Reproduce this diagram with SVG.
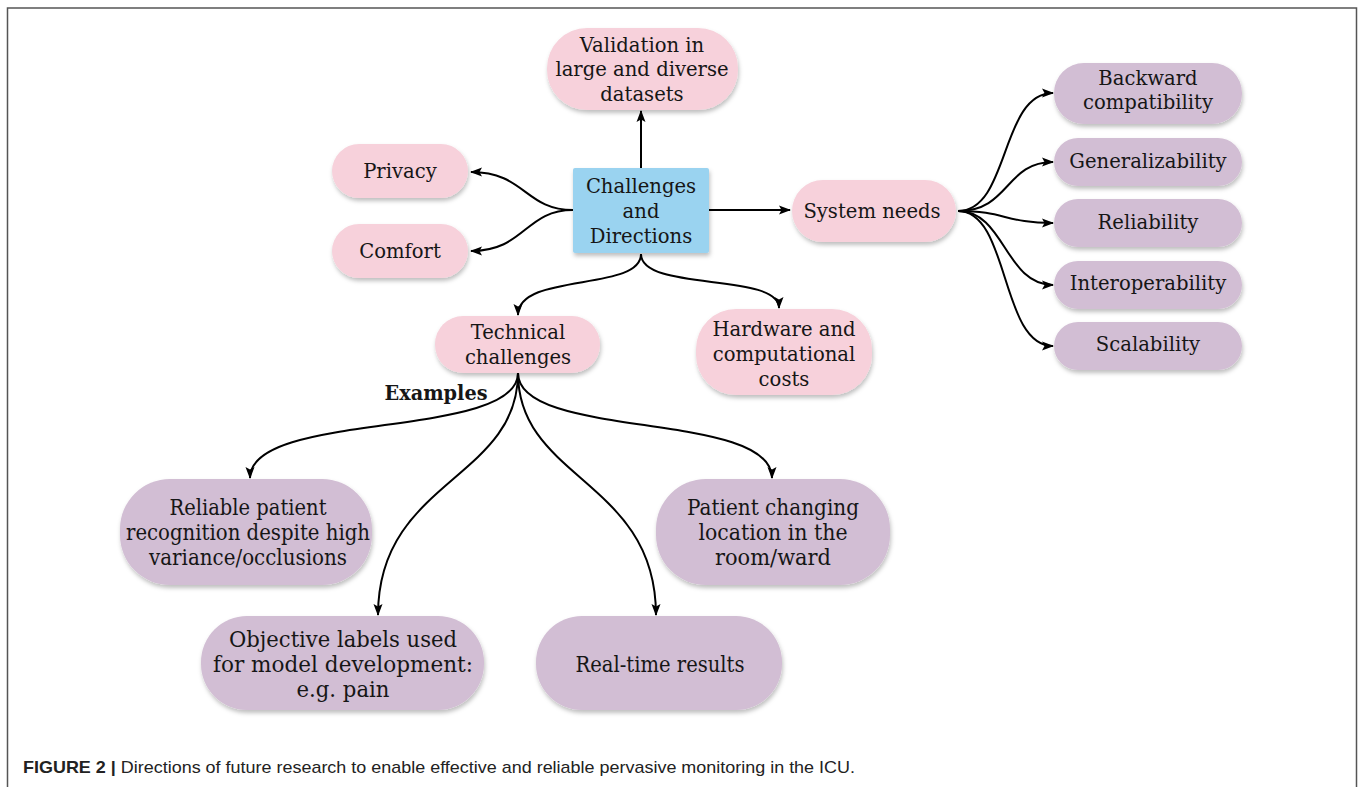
<svg xmlns="http://www.w3.org/2000/svg" width="1358" height="787" viewBox="0 0 1358 787">
<defs>
<filter id="sh" x="-10%" y="-10%" width="120%" height="130%">
<feDropShadow dx="1" dy="3" stdDeviation="2" flood-color="#000" flood-opacity="0.25"/>
</filter>
<marker id="ah" markerWidth="12" markerHeight="10" refX="11" refY="5" orient="auto" markerUnits="userSpaceOnUse">
<path d="M0,0.5 L12,5 L0,9.5 L2.5,5 Z" fill="#000"/>
</marker>
<style>
.pink{fill:#f7d1db;filter:url(#sh)}
.purple{fill:#d2bed4;filter:url(#sh)}
.blue{fill:#9ad3f0;filter:url(#sh)}
.t{font-family:"DejaVu Serif","Liberation Serif",serif;font-size:19.6px;fill:#161616;text-anchor:middle}
.tc{font-family:"DejaVu Serif","Liberation Serif",serif;font-size:22px;fill:#161616;text-anchor:middle}
.c{fill:none;stroke:#000;stroke-width:2;marker-end:url(#ah)}
</style>
</defs>
<rect width="1358" height="787" fill="#fff"/>
<path d="M7.5,787 V8 H1356.5 V787" fill="none" stroke="#555" stroke-width="1.5"/>

<g id="connectors">
<path class="c" d="M641,168 V111"/>
<path class="c" d="M573,210 C525,210 525,172 471,172"/>
<path class="c" d="M573,210 C525,210 525,251 471,251"/>
<path class="c" d="M709,210 H790"/>
<path class="c" d="M641,254 C641,292 518,272 518,315"/>
<path class="c" d="M641,254 C641,292 779,272 779,308"/>
<path class="c" d="M958,211 C1010,211 1000,93 1053,93"/>
<path class="c" d="M958,211 C1010,211 1005,162 1053,162"/>
<path class="c" d="M958,211 C1005,211 1005,223 1053,223"/>
<path class="c" d="M958,211 C1005,211 1005,285 1053,285"/>
<path class="c" d="M958,211 C1010,211 1000,346 1053,346"/>
<path class="c" d="M518,373 C518,440 250,410 250,478"/>
<path class="c" d="M518,373 C518,480 378,480 378,615"/>
<path class="c" d="M518,373 C518,480 656,480 656,615"/>
<path class="c" d="M518,373 C518,440 772,410 772,478"/>
</g>

<g id="validation">
<rect class="pink" x="547" y="28" width="191" height="82" rx="40"/>
<text class="t" x="642" y="52">Validation in</text>
<text class="t" x="642" y="76">large and diverse</text>
<text class="t" x="642" y="101">datasets</text>
</g>
<g id="center">
<rect class="blue" x="573" y="168" width="136" height="85" rx="2"/>
<text class="t" x="641" y="193">Challenges</text>
<text class="t" x="641" y="218">and</text>
<text class="t" x="641" y="243">Directions</text>
</g>
<g id="privacy">
<rect class="pink" x="332" y="144" width="136" height="54" rx="27"/>
<text class="t" x="400" y="178">Privacy</text>
</g>
<g id="comfort">
<rect class="pink" x="332" y="224" width="136" height="54" rx="27"/>
<text class="t" x="400" y="258">Comfort</text>
</g>
<g id="system-needs">
<rect class="pink" x="792" y="180" width="164" height="62" rx="31"/>
<text class="t" x="872" y="218">System needs</text>
</g>
<g id="backward">
<rect class="purple" x="1054" y="63" width="188" height="61" rx="30"/>
<text class="t" x="1148" y="85">Backward</text>
<text class="t" x="1148" y="109">compatibility</text>
</g>
<g id="generalizability">
<rect class="purple" x="1054" y="138" width="188" height="48" rx="24"/>
<text class="t" x="1148" y="168">Generalizability</text>
</g>
<g id="reliability">
<rect class="purple" x="1054" y="199" width="188" height="48" rx="24"/>
<text class="t" x="1148" y="229">Reliability</text>
</g>
<g id="interoperability">
<rect class="purple" x="1054" y="261" width="188" height="48" rx="24"/>
<text class="t" x="1148" y="290">Interoperability</text>
</g>
<g id="scalability">
<rect class="purple" x="1054" y="322" width="188" height="48" rx="24"/>
<text class="t" x="1148" y="351">Scalability</text>
</g>
<g id="technical">
<rect class="pink" x="435" y="316" width="165" height="57" rx="28"/>
<text class="t" x="518" y="339">Technical</text>
<text class="t" x="518" y="364">challenges</text>
</g>
<g id="hardware">
<rect class="pink" x="696" y="309" width="176" height="86" rx="40"/>
<text class="t" x="784" y="336">Hardware and</text>
<text class="t" x="784" y="361">computational</text>
<text class="t" x="784" y="386">costs</text>
</g>
<text id="examples" x="436" y="400" textLength="103" lengthAdjust="spacingAndGlyphs" style="font-family:'DejaVu Serif','Liberation Serif',serif;font-size:21px;font-weight:bold;text-anchor:middle;fill:#161616">Examples</text>
<g id="reliable-patient">
<rect class="purple" x="120" y="479" width="252" height="106" rx="50"/>
<text class="tc" x="248" y="515" textLength="157" lengthAdjust="spacingAndGlyphs">Reliable patient</text>
<text class="tc" x="248" y="540" textLength="244" lengthAdjust="spacingAndGlyphs">recognition despite high</text>
<text class="tc" x="248" y="565" textLength="198" lengthAdjust="spacingAndGlyphs">variance/occlusions</text>
</g>
<g id="patient-changing">
<rect class="purple" x="656" y="479" width="234" height="106" rx="50"/>
<text class="tc" x="773" y="515" textLength="172" lengthAdjust="spacingAndGlyphs">Patient changing</text>
<text class="tc" x="773" y="540" textLength="149" lengthAdjust="spacingAndGlyphs">location in the</text>
<text class="tc" x="773" y="565" textLength="116" lengthAdjust="spacingAndGlyphs">room/ward</text>
</g>
<g id="objective">
<rect class="purple" x="201" y="616" width="283" height="94" rx="46"/>
<text class="tc" x="343" y="647" textLength="228" lengthAdjust="spacingAndGlyphs">Objective labels used</text>
<text class="tc" x="343" y="672" textLength="260" lengthAdjust="spacingAndGlyphs">for model development:</text>
<text class="tc" x="343" y="697" textLength="93" lengthAdjust="spacingAndGlyphs">e.g. pain</text>
</g>
<g id="realtime">
<rect class="purple" x="536" y="616" width="246" height="94" rx="46"/>
<text class="tc" x="660" y="672" textLength="169" lengthAdjust="spacingAndGlyphs">Real-time results</text>
</g>
<text id="caption" x="23" y="773" textLength="832" lengthAdjust="spacingAndGlyphs" style="font-family:'Liberation Sans',Arial,sans-serif;font-size:17px;fill:#222"><tspan font-weight="bold">FIGURE 2 |</tspan> Directions of future research to enable effective and reliable pervasive monitoring in the ICU.</text>
</svg>
